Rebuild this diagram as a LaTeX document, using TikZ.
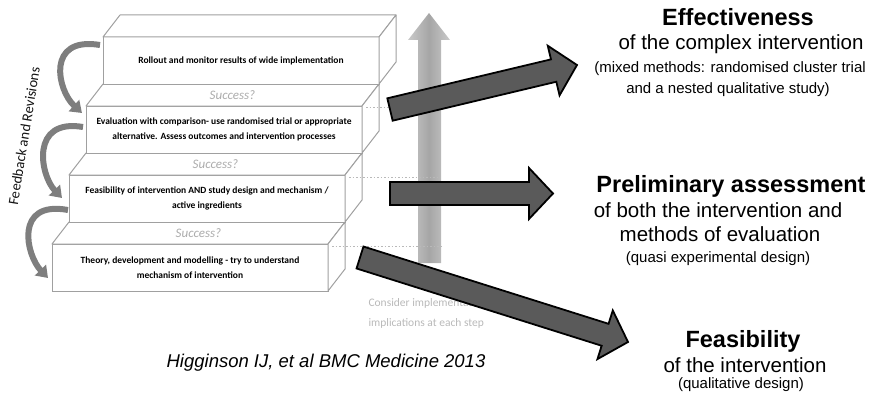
\documentclass[tikz,border=0pt]{standalone}
\usepackage{fontspec}
\setmainfont{Liberation Sans}
\newfontfamily\carlito{Carlito}
\usetikzlibrary{calc,arrows.meta}
\definecolor{arrowgray}{HTML}{5A5A5A}
\definecolor{edgegray}{HTML}{A0A0A0}
\definecolor{curvegray}{HTML}{7E7E7E}
\newcommand\fatarrow[3]{%
  \coordinate (#3h) at ($(#2)!24pt!(#1)$);
  \filldraw[fat] ($(#1)!11.5pt!90:(#2)$) -- ($(#3h)!11.5pt!90:(#2)$) -- ($(#3h)!25.5pt!90:(#2)$) -- (#2)
    -- ($(#3h)!25.5pt!-90:(#2)$) -- ($(#3h)!11.5pt!-90:(#2)$) -- ($(#1)!11.5pt!-90:(#2)$) -- cycle;
}
\begin{document}
\begin{tikzpicture}[x=1pt,y=-1pt,
  front/.style={draw=edgegray, line width=1pt, fill=white, minimum width=276pt, minimum height=47pt,
    inner sep=1pt, outer sep=0pt, align=center, font=\carlito\bfseries\fontsize{9.5}{15}\selectfont},
  face/.style={draw=edgegray, line width=1pt, fill=white, line join=round},
  success/.style={font=\carlito\itshape\fontsize{13}{15}\selectfont, text=gray!65},
  fat/.style={fill=arrowgray, draw=black, line width=1.8pt, line join=miter},
  fbarrow/.style={draw=curvegray, line width=6pt, -{Triangle[width=15pt,length=11pt]}},
  dots/.style={draw=gray!55, line width=1pt, dash pattern=on 1.5pt off 2pt},
  ttl/.style={font=\bfseries\fontsize{23.5}{27}\selectfont, anchor=base},
  sub/.style={font=\fontsize{20.5}{24}\selectfont, anchor=base},
  note/.style={font=\fontsize{15}{18}\selectfont, anchor=base},
  consider/.style={font=\carlito\fontsize{11.5}{13}\selectfont, text=gray!55, anchor=base west}]
\useasboundingbox (0,0) rectangle (888,396);

% ---- staircase (bottom to top)
\node[front] (b4) at (190,267.5) {Theory, development and modelling - try to understand\\mechanism of intervention};
\draw[face] (b4.north west) -- ++(17,-22) -- ++(276,0) -- (b4.north east) -- cycle;
\draw[face] (b4.north east) -- ++(17,-22) -- ++(0,47) -- (b4.south east) -- cycle;
\node[success] (s4) at (198.5,233) {Success?};

\node[front] (b3) at (207,198.5) {Feasibility of intervention AND study design and mechanism /\\active ingredients};
\draw[face] (b3.north west) -- ++(17,-22) -- ++(276,0) -- (b3.north east) -- cycle;
\draw[face] (b3.north east) -- ++(17,-22) -- ++(0,47) -- (b3.south east) -- cycle;
\node[success] (s3) at (215.5,164) {Success?};

\node[front] (b2) at (224,129.5) {Evaluation with comparison- use randomised trial or appropriate\\alternative. Assess outcomes and intervention processes};
\draw[face] (b2.north west) -- ++(17,-22) -- ++(276,0) -- (b2.north east) -- cycle;
\draw[face] (b2.north east) -- ++(17,-22) -- ++(0,47) -- (b2.south east) -- cycle;
\node[success] (s2) at (232.5,95) {Success?};

\node[front] (b1) at (241,60.5) {Rollout and monitor results of wide implementation};
\draw[face] (b1.north west) -- ++(17,-22) -- ++(276,0) -- (b1.north east) -- cycle;
\draw[face] (b1.north east) -- ++(17,-22) -- ++(0,47) -- (b1.south east) -- cycle;

% ---- feedback curved arrows
\coordinate (f1s) at (100,45);  \coordinate (f1e) at (82,113);
\coordinate (f2s) at (83,127);  \coordinate (f2e) at (62,198);
\coordinate (f3s) at (68,210);  \coordinate (f3e) at (48,278);
\draw[fbarrow] (f1s) .. controls (46,36) and (57,90) .. (f1e);
\draw[fbarrow] (f2s) .. controls (30,118) and (40,175) .. (f2e);
\draw[fbarrow] (f3s) .. controls (14,200) and (26,255) .. (f3e);
\node[rotate=80.8, font=\carlito\fontsize{14.5}{17}\selectfont, text=gray!15!black] (fb) at (24,136) {Feedback and Revisions};

% ---- vertical implementation arrow
\node[inner sep=0pt, minimum size=0pt] (vtop) at (429,13) {};
\node[inner sep=0pt, minimum size=0pt] (vbot) at (429.5,263) {};
\path[left color=gray!42, right color=gray!42, middle color=gray!70]
  (vbot.center) ++(-11.5,0) -- (418,40) -- (408,40) -- (vtop.center) -- (450,40) -- (441,40) -- ++(0,223) -- cycle;

% ---- dotted level lines
\coordinate (d2) at (441,107);
\coordinate (d3) at (441,177);
\coordinate (d4) at (441,246);
\draw[dots] ($(b2.north east)+(4,1)$) -- (d2);
\draw[dots] ($(b3.north east)+(4,2)$) -- (d3);
\draw[dots] ($(b4.north east)+(4,2)$) -- (d4);

\node[consider] (c1) at (365,306) {Consider implementation};
\node[consider] (c2) at (365,326) {implications at each step};

% ---- fat arrows
\coordinate (effT) at (390,109.5); \coordinate (effP) at (577,65);
\coordinate (preT) at (390,193.5); \coordinate (preP) at (553,193.5);
\coordinate (feaT) at (360,257.5); \coordinate (feaP) at (628,342);
\fatarrow{effT}{effP}{ea}
\fatarrow{preT}{preP}{pa}
\fatarrow{feaT}{feaP}{fa}

% ---- right-hand texts
\node[ttl] (e1) at (738,26) {Effectiveness};
\node[sub] (e2) at (741,50) {of the complex intervention};
\node[note] (e3) at (730,72) {(mixed methods: randomised cluster trial};
\node[note] (e4) at (728,93) {and a nested qualitative study)};

\node[ttl] (p1) at (731,192) {Preliminary assessment};
\node[sub] (p2) at (718,217) {of both the intervention and};
\node[sub] (p3) at (720,241) {methods of evaluation};
\node[note] (p4) at (718,262) {(quasi experimental design)};

\node[ttl] (q1) at (743,347) {Feasibility};
\node[sub] (q2) at (745,372) {of the intervention};
\node[note] (q3) at (741,388) {(qualitative design)};

\node[font=\itshape\fontsize{18.5}{22}\selectfont, anchor=base] (cite) at (326,367) {Higginson IJ, et al BMC Medicine 2013};
\end{tikzpicture}
\end{document}
